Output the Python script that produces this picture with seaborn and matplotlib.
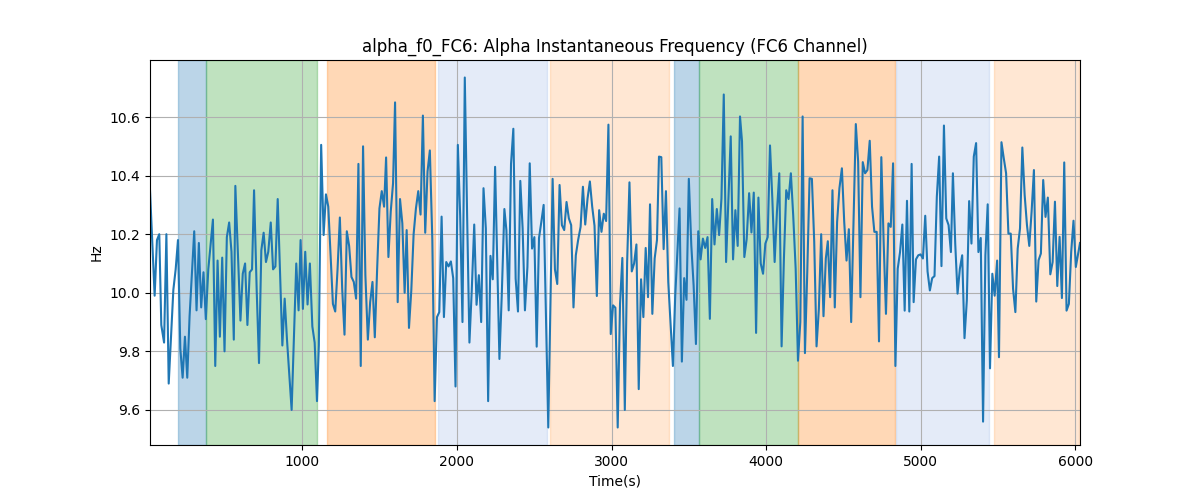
import matplotlib
matplotlib.use("Agg")
import matplotlib.pyplot as plt
import seaborn as sns
import pandas as pd

# vertices of the FC6 alpha instantaneous frequency trace (time in s, value in Hz)
time_s = [
    15, 45, 60, 75, 88, 106, 121, 136, 166, 181, 196, 211, 226, 241, 256, 271,
    301, 316, 331, 346, 361, 376, 392, 422, 437, 452, 467, 482, 497, 512, 527,
    542, 557, 567, 600, 615, 630, 645, 660, 675, 688, 705, 720, 735, 750, 765,
    780, 796, 811, 826, 841, 871, 886, 901, 916, 931, 961, 976, 989, 1004, 1019,
    1034, 1049, 1065, 1080, 1095, 1107, 1122, 1138, 1153, 1168, 1183, 1198, 1213,
    1228, 1243, 1258, 1273, 1288, 1303, 1318, 1333, 1348, 1363, 1378, 1393, 1408,
    1424, 1439, 1454, 1469, 1484, 1499, 1514, 1529, 1542, 1557, 1572, 1587, 1600,
    1617, 1632, 1647, 1662, 1675, 1690, 1705, 1720, 1735, 1750, 1765, 1780, 1795,
    1810, 1825, 1841, 1856, 1871, 1886, 1901, 1916, 1931, 1946, 1961, 1976, 1991,
    2006, 2021, 2036, 2051, 2066, 2081, 2096, 2112, 2127, 2142, 2157, 2172, 2187,
    2202, 2217, 2232, 2247, 2275, 2290, 2307, 2320, 2335, 2350, 2365, 2380, 2395,
    2410, 2425, 2440, 2456, 2471, 2486, 2501, 2516, 2531, 2546, 2561, 2591, 2619,
    2634, 2649, 2664, 2679, 2694, 2709, 2724, 2739, 2754, 2769, 2784, 2800, 2815,
    2830, 2845, 2860, 2875, 2890, 2905, 2920, 2935, 2950, 2965, 2980, 2995, 3010,
    3025, 3040, 3055, 3070, 3086, 3101, 3116, 3131, 3146, 3161, 3176, 3191, 3206,
    3221, 3236, 3249, 3264, 3279, 3294, 3307, 3322, 3337, 3352, 3367, 3397, 3412,
    3440, 3455, 3470, 3485, 3500, 3516, 3531, 3546, 3561, 3576, 3591, 3606, 3621,
    3636, 3651, 3666, 3681, 3696, 3711, 3726, 3741, 3771, 3786, 3801, 3816, 3831,
    3844, 3859, 3874, 3890, 3905, 3920, 3935, 3950, 3965, 3980, 3995, 4010, 4025,
    4040, 4055, 4070, 4085, 4100, 4115, 4130, 4145, 4160, 4175, 4191, 4206, 4221,
    4236, 4251, 4266, 4281, 4296, 4311, 4326, 4341, 4356, 4371, 4386, 4399, 4414,
    4429, 4444, 4459, 4474, 4490, 4505, 4520, 4535, 4550, 4580, 4595, 4610, 4625,
    4640, 4655, 4670, 4685, 4700, 4715, 4730, 4745, 4760, 4775, 4791, 4806, 4821,
    4836, 4851, 4866, 4881, 4896, 4911, 4926, 4941, 4954, 4969, 4984, 4999, 5014,
    5029, 5044, 5059, 5074, 5089, 5104, 5119, 5134, 5150, 5165, 5180, 5195, 5208,
    5223, 5238, 5253, 5268, 5283, 5298, 5313, 5328, 5343, 5358, 5373, 5388, 5403,
    5418, 5433, 5448, 5463, 5478, 5494, 5506, 5522, 5537, 5552, 5567, 5582, 5597,
    5612, 5627, 5642, 5657, 5672, 5687, 5702, 5717, 5732, 5747, 5762, 5777, 5792,
    5807, 5822, 5838, 5853, 5868, 5883, 5898, 5913, 5928, 5943, 5958, 5973, 5988,
    6003, 6030,
]
freq_hz = [
    10.35, 9.99, 10.18, 10.20, 9.89, 9.83, 10.20, 9.69, 10.01, 10.08, 10.18, 9.81,
    9.71, 9.85, 9.71, 9.92, 10.21, 9.94, 10.17, 9.95, 10.07, 9.91, 10.08, 10.25,
    9.75, 10.11, 9.85, 10.12, 9.80, 10.19, 10.24, 10.14, 9.84, 10.365, 9.905,
    10.065, 10.10, 9.89, 10.07, 10.08, 10.35, 10.01, 9.76, 10.145, 10.205, 10.105,
    10.14, 10.24, 10.08, 10.09, 10.32, 9.82, 9.98, 9.84, 9.72, 9.60, 10.10, 9.94,
    10.18, 9.945, 10.14, 9.96, 10.10, 9.885, 9.83, 9.63, 9.82, 10.505, 10.197,
    10.336, 10.294, 10.128, 9.962, 9.936, 10.08, 10.257, 10.014, 9.857, 10.21,
    10.16, 10.054, 10.037, 9.98, 10.44, 9.75, 10.50, 10.06, 9.84, 9.968, 10.037,
    9.848, 10.08, 10.288, 10.347, 10.294, 10.462, 10.122, 10.277, 10.374, 10.65,
    9.968, 10.32, 10.237, 10.0, 10.214, 9.88, 10.008, 10.2, 10.288, 10.347,
    10.267, 10.605, 10.205, 10.414, 10.486, 10.18, 9.63, 9.917, 9.934, 10.26,
    9.917, 10.105, 10.09, 10.107, 10.05, 9.68, 10.505, 10.265, 9.90, 10.735,
    10.265, 9.83, 10.008, 10.233, 9.959, 10.06, 9.90, 10.357, 10.22, 9.63,
    10.126, 10.046, 10.43, 9.774, 9.99, 10.286, 10.214, 9.94, 10.44, 10.56,
    10.048, 9.936, 10.382, 10.22, 9.94, 10.088, 10.442, 10.151, 10.19, 9.816,
    10.187, 10.242, 10.30, 9.54, 10.389, 10.08, 10.03, 10.368, 10.231, 10.214,
    10.31, 10.254, 10.231, 9.95, 10.128, 10.18, 10.225, 10.362, 10.233, 10.322,
    10.38, 10.294, 10.229, 9.989, 10.282, 10.208, 10.27, 10.245, 10.574, 9.859,
    9.957, 9.949, 9.54, 9.962, 10.119, 9.60, 10.105, 10.377, 10.073, 10.10,
    10.165, 9.671, 10.046, 9.917, 10.153, 9.985, 10.302, 9.928, 10.117, 10.18,
    10.465, 10.463, 10.149, 10.347, 10.037, 9.75, 9.99, 10.288, 9.765, 10.05,
    9.976, 10.389, 10.162, 10.025, 9.825, 10.21, 10.114, 10.185, 10.153, 10.19,
    9.911, 10.32, 10.165, 10.286, 10.197, 10.322, 10.677, 10.105, 10.534, 10.114,
    10.282, 10.16, 10.602, 10.517, 10.122, 10.183, 10.34, 10.206, 10.342, 9.863,
    10.325, 10.10, 10.065, 10.168, 10.19, 10.503, 10.322, 10.105, 10.277, 10.408,
    9.817, 10.117, 10.35, 10.32, 10.408, 10.265, 10.082, 9.768, 9.90, 10.602,
    9.794, 10.071, 10.391, 10.389, 10.174, 9.817, 9.945, 10.20, 9.92, 10.117,
    10.176, 9.985, 10.35, 9.95, 10.242, 10.357, 10.425, 10.242, 10.11, 10.217,
    9.90, 10.576, 10.448, 9.985, 10.446, 10.408, 10.419, 10.519, 10.294, 10.208,
    10.208, 9.834, 10.463, 10.174, 9.928, 10.237, 10.225, 10.442, 9.75, 10.082,
    10.139, 10.233, 9.939, 10.314, 9.936, 10.44, 9.968, 10.114, 10.128, 10.131,
    10.117, 10.263, 10.073, 10.008, 10.05, 10.057, 10.328, 10.465, 10.091,
    10.571, 10.254, 10.231, 10.139, 10.408, 10.168, 9.997, 10.082, 10.128,
    9.845, 9.974, 10.313, 10.168, 10.465, 10.511, 10.139, 10.187, 9.56, 10.128,
    10.302, 9.742, 10.065, 9.99, 10.11, 9.78, 10.514, 10.459, 10.408, 10.202,
    10.202, 10.014, 9.934, 10.151, 10.22, 10.496, 10.334, 10.231, 10.16, 10.277,
    10.419, 9.97, 10.111, 10.134, 10.385, 10.259, 10.325, 10.063, 10.105,
    10.311, 10.023, 10.191, 9.982, 10.445, 9.939, 9.962, 10.139, 10.246,
    10.088, 10.17,
]

# task epochs shaded behind the trace
epoch_start = [196, 377, 1160, 1876, 2602, 3404, 3564, 4208, 4838, 5474]
epoch_end = [377, 1097, 1858, 2585, 3372, 3564, 4208, 4834, 5442, 6025]
epoch_color = ["#1f77b4", "#2ca02c", "#ff7f0e", "#7a9fe0", "#ff7f0e",
               "#1f77b4", "#2ca02c", "#ff7f0e", "#7a9fe0", "#ff7f0e"]
epoch_alpha = [0.3, 0.3, 0.3, 0.2, 0.18, 0.3, 0.3, 0.3, 0.2, 0.18]

df = pd.DataFrame({"time": time_s, "freq": freq_hz})

fig, ax = plt.subplots(figsize=(12, 5), dpi=100)

for s, e, c, a in zip(epoch_start, epoch_end, epoch_color, epoch_alpha):
    ax.axvspan(s, e, color=c, alpha=a)

sns.lineplot(data=df, x="time", y="freq", ax=ax, color="#1f77b4",
             linewidth=1.5, estimator=None)

ax.set_xlim(df["time"].min(), df["time"].max())
ax.grid(True)
ax.set_title("alpha_f0_FC6: Alpha Instantaneous Frequency (FC6 Channel)")
ax.set_xlabel("Time(s)")
ax.set_ylabel("Hz")

plt.savefig("out.png")
